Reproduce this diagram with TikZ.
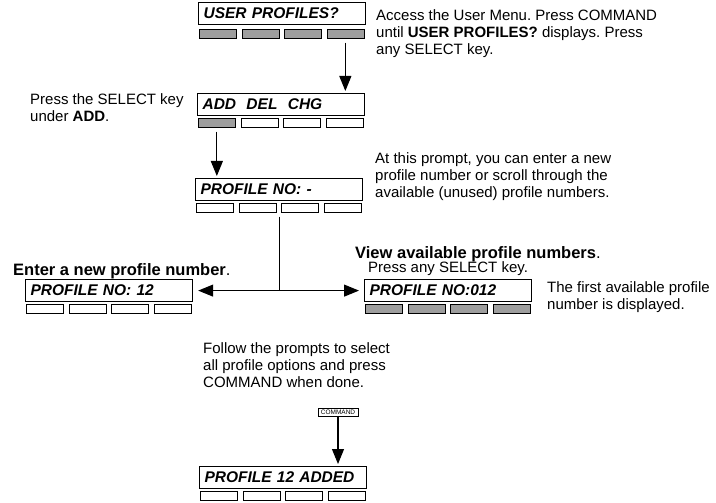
\documentclass[tikz,border=0pt]{standalone}
\usepackage{fontspec}
\setmainfont{Liberation Sans}
\usetikzlibrary{arrows.meta}
\definecolor{keygray}{gray}{0.62}
\frenchspacing
\begin{document}
\begin{tikzpicture}[x=1pt,y=-1pt,
  disp/.style={draw, line width=1.2pt, minimum width=167pt, minimum height=22pt,
    anchor=north west, inner xsep=5pt, inner ysep=0pt, text width=157pt, align=left,
    font=\fontsize{15.5}{16}\selectfont\bfseries\itshape},
  key/.style={draw, line width=0.7pt, minimum width=37pt, minimum height=9pt,
    inner sep=0pt, anchor=north west},
  gk/.style={key, fill=keygray},
  wk/.style={key, fill=white},
  arr/.style={-{Triangle[length=15pt,width=12pt]}, line width=1.1pt},
  conn/.style={line width=1.1pt},
  txt/.style={inner sep=0pt, align=left, font=\fontsize{15}{17}\selectfont},
  hd/.style={inner sep=0pt, align=left, font=\fontsize{16.5}{18}\selectfont}
]
\fill[white] (0,0) rectangle (716,503);
\useasboundingbox (0,0) rectangle (716,503);

% Box 1
\node[disp] (d1) at (198,2) {USER PROFILES?};
\foreach \i in {0,1,2,3} \node[gk] (a\i) at ({199+42.5*\i},29) {};
\node[txt, anchor=north west] (t1) at (376,9)
  {Access the User Menu. Press COMMAND\\until \textbf{USER PROFILES?} displays. Press\\any SELECT key.};

% Box 2
\node[disp] (d2) at (197,93) {ADD~~DEL~~CHG};
\node[gk] (b0) at (198,118) {};
\foreach \i in {1,2,3} \node[wk] (b\i) at ({198+42.5*\i},118) {};
\node[txt, anchor=north west] (t2) at (30,93) {Press the SELECT key\\under \textbf{ADD}.};

\draw[arr, shorten <=4pt, shorten >=2pt] (a3.south) -- (a3.south |- d2.north);

% Box 3
\node[disp] (d3) at (195,178) {PROFILE NO: -};
\foreach \i in {0,1,2,3} \node[wk] (c\i) at ({196+42.5*\i},203) {};
\node[txt, anchor=north west] (t3) at (375,152)
  {At this prompt, you can enter a new\\profile number or scroll through the\\available (unused) profile numbers.};

\draw[arr, shorten <=4pt, shorten >=2pt] (b0.south) -- (b0.south |- d3.north);

% Box 4 and 5
\node[disp] (d4) at (25,279) {PROFILE NO: 12};
\foreach \i in {0,1,2,3} \node[wk] (e\i) at ({26+42.5*\i},304) {};
\node[hd, anchor=base west] (t4) at (13,275) {\textbf{Enter a new profile number}.};

\node[disp] (d5) at (364,279) {PROFILE NO:012};
\foreach \i in {0,1,2,3} \node[gk] (f\i) at ({365+42.5*\i},304) {};
\node[hd, anchor=base west] (t5) at (355,258) {\textbf{View available profile numbers}.};
\node[txt, anchor=base west] (t6) at (368,272) {Press any SELECT key.};
\node[txt, anchor=north west] (t7) at (547,281) {The first available profile\\number is displayed.};

% Junction
\coordinate (jt) at (d3.south |- c0.south);
\coordinate (jb) at (d3.south |- d4.west);
\draw[conn, shorten <=4pt] (jt) -- (jb);
\draw[arr, shorten >=5pt] (jb) -- (jb -| d4.east);
\draw[arr, shorten >=5pt] (jb) -- (jb -| d5.west);

% Bottom
\node[txt, anchor=north west] (t8) at (203,342)
  {Follow the prompts to select\\all profile options and press\\COMMAND when done.};
\node[draw, line width=0.5pt, fill=white, minimum width=40pt, minimum height=8pt, inner sep=0pt,
  font=\fontsize{6.5}{6.5}\selectfont] (cmd) at (338,412) {COMMAND};
\node[disp] (d6) at (199,466) {PROFILE 12 ADDED};
\foreach \i in {0,1,2,3} \node[wk] (g\i) at ({200+42.5*\i},491) {};
\draw[arr, shorten >=2pt] (cmd.south) -- (cmd.south |- d6.north);
\end{tikzpicture}
\end{document}
